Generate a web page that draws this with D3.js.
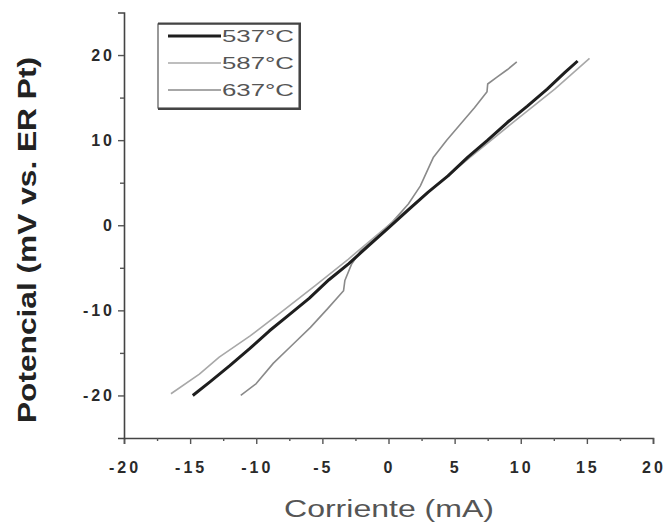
<!DOCTYPE html>
<html>
<head>
<meta charset="utf-8">
<script src="https://cdn.jsdelivr.net/npm/d3@7"></script>
<style>
  body { margin: 0; background: #fff; }
  svg { display: block; }
  text { font-family: "Liberation Sans", Arial, sans-serif; fill: #333; }
</style>
</head>
<body>
<div id="chart"></div>
<script>
// data: corriente (mA), potencial (mV)
var current53 = [-14.8,-13.5,-12,-10.5,-9,-7.5,-6,-4.5,-3,-1.5,0,1.5,3,4.5,6,7.5,9,10.5,12,13.3,14.3];
var potential53 = [-20,-18.4,-16.5,-14.5,-12.4,-10.5,-8.6,-6.4,-4.5,-2.4,-0.3,1.8,3.9,5.8,8.0,10.0,12.1,14.0,16.0,17.9,19.3];

var current58 = [-16.45,-14.3,-12.8,-10.46,-7.94,-5.47,-3.05,0,3.08,6.19,9.35,12.57,15.2];
var potential58 = [-19.8,-17.5,-15.5,-13,-10,-7,-4,0,4,8,12,16,19.6];

var current63 = [-11.17,-10,-8.7,-7.3,-5.9,-4.6,-3.4,-3.3,-2.8,-2.1,-1,0.3,1.5,2.4,3.4,4.4,5.4,6.5,7.45,7.5,8.2,9.0,9.7];
var potential63 = [-20,-18.6,-16.2,-14.1,-12.0,-9.8,-7.7,-6.5,-4.6,-3.0,-1.5,0.4,2.5,4.6,8.0,10.0,11.8,13.8,15.7,16.6,17.4,18.3,19.2];

var legendLabels = ["537°C", "587°C", "637°C"];

var xTicks = [-20,-15,-10,-5,0,5,10,15,20];
var xMinor = [-17.5,-12.5,-7.5,-2.5,2.5,7.5,12.5,17.5];
var yTicks = [-20,-10,0,10,20];
var yMinor = [-15,-5,5,15];
var xTickLabels = ["-20","-15","-10","-5","0","5","10","15","20"];

var width = 665, height = 527;

var svg = d3.select("#chart").append("svg")
    .attr("width", width)
    .attr("height", height);

var x = d3.scaleLinear().domain([-20, 20]).range([124, 653]);
var y = d3.scaleLinear().domain([-25, 25]).range([438, 12.5]);

function pairs(xs, ys) {
    return xs.map(function(d, i) { return [d, ys[i]]; });
}

var line = d3.line()
    .x(function(d) { return x(d[0]); })
    .y(function(d) { return y(d[1]); })
    .curve(d3.curveLinear);

var series = [
    { label: legendLabels[0], data: pairs(current53, potential53), color: "#1e1e1e", w: 3 },
    { label: legendLabels[1], data: pairs(current58, potential58), color: "#a8a8a8", w: 1.6 },
    { label: legendLabels[2], data: pairs(current63, potential63), color: "#8a8a8a", w: 1.6 }
];

// axes
svg.append("g")
    .attr("transform", "translate(0," + y(-25) + ")")
    .call(d3.axisBottom(x).tickValues(xTicks).tickSize(6).tickFormat(""));
svg.append("g")
    .attr("transform", "translate(" + x(-20) + ",0)")
    .call(d3.axisLeft(y).tickValues(yTicks).tickSize(6).tickFormat(""));

svg.append("g")
    .attr("transform", "translate(0," + y(-25) + ")")
    .call(d3.axisBottom(x).tickValues(xMinor).tickSize(3).tickFormat(""))
    .select(".domain").remove();
svg.append("g")
    .attr("transform", "translate(" + x(-20) + ",0)")
    .call(d3.axisLeft(y).tickValues(yMinor).tickSize(4).tickFormat(""))
    .select(".domain").remove();

svg.selectAll(".domain").attr("stroke", "#444").attr("stroke-width", 1.6);
svg.selectAll(".tick line").attr("stroke", "#555").attr("stroke-width", 1.4);

// tick labels
svg.append("g").selectAll("text")
    .data(xTicks)
    .enter().append("text")
    .attr("x", function(d) { return x(d) + 1; })
    .attr("y", 473)
    .attr("text-anchor", "middle")
    .style("font-size", "16px")
    .style("font-weight", "bold")
    .style("letter-spacing", "3px")
    .style("fill", "#2a2a2a")
    .text(function(d, i) { return xTickLabels[i]; });

svg.append("g").selectAll("text")
    .data(yTicks)
    .enter().append("text")
    .attr("x", 115)
    .attr("y", function(d) { return y(d) + 6; })
    .attr("text-anchor", "end")
    .style("font-size", "16px")
    .style("font-weight", "bold")
    .style("letter-spacing", "3px")
    .style("fill", "#2a2a2a")
    .text(function(d) { return d; });

// axis titles
svg.append("text")
    .attr("transform", "translate(36,240) rotate(-90)")
    .attr("text-anchor", "middle")
    .attr("textLength", 366)
    .attr("lengthAdjust", "spacingAndGlyphs")
    .style("font-size", "25px")
    .style("font-weight", "bold")
    .style("fill", "#222")
    .text("Potencial (mV vs. ER Pt)");

svg.append("text")
    .attr("x", 389)
    .attr("y", 517)
    .attr("text-anchor", "middle")
    .attr("textLength", 210)
    .attr("lengthAdjust", "spacingAndGlyphs")
    .style("font-size", "23px")
    .style("fill", "#555")
    .text("Corriente (mA)");

// curves
svg.append("g").selectAll("path")
    .data(series.slice().reverse())
    .enter().append("path")
    .attr("d", function(d) { return line(d.data); })
    .attr("fill", "none")
    .attr("stroke", function(d) { return d.color; })
    .attr("stroke-width", function(d) { return d.w; })
    .attr("stroke-linejoin", "round");

// legend
var lg = svg.append("g");
lg.append("rect")
    .attr("x", 158).attr("y", 24)
    .attr("width", 141).attr("height", 84)
    .attr("fill", "#fff")
    .attr("stroke", "#555")
    .attr("stroke-width", 1.2);
lg.append("path")
    .attr("d", "M158,23.5H300V109H158")
    .attr("fill", "none")
    .attr("stroke", "#444")
    .attr("stroke-width", 2);

var rows = lg.selectAll(".row")
    .data(series)
    .enter().append("g")
    .attr("transform", function(d, i) { return "translate(0," + (36 + i * 27) + ")"; });
rows.append("line")
    .attr("x1", 168).attr("x2", 221)
    .attr("stroke", function(d) { return d.color; })
    .attr("stroke-width", function(d) { return d.w; });
rows.append("text")
    .attr("x", 222)
    .attr("y", 6)
    .attr("textLength", 72)
    .attr("lengthAdjust", "spacingAndGlyphs")
    .style("font-size", "17px")
    .style("fill", "#555")
    .text(function(d) { return d.label; });
</script>
</body>
</html>
